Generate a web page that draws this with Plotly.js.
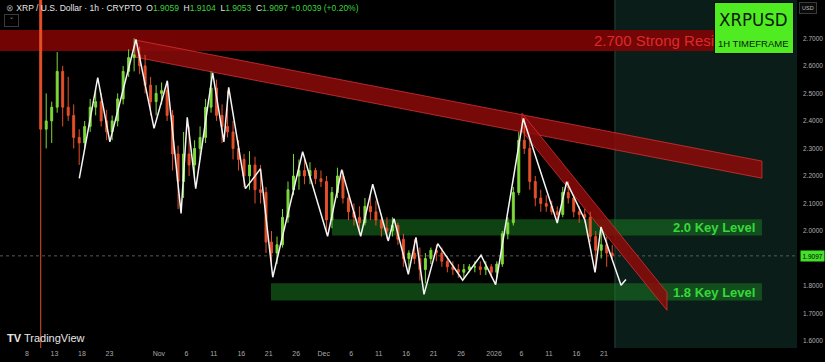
<!DOCTYPE html>
<html>
<head>
<meta charset="utf-8">
<script src="https://cdn.plot.ly/plotly-3.0.1.min.js"></script>
<style>
html,body{margin:0;padding:0;background:#000;}
#chart{width:825px;height:362px;}
</style>
</head>
<body>
<div id="chart"></div>
<script>
// ---- Data ----
const firstCandleDay = '2025-10-10';
const candleOpen  = [2.84,2.37,2.40,2.45,2.58,2.45,2.42,2.34,2.32,2.38,2.45,2.47,2.40,2.36,2.40,2.48,2.58,2.63,2.64,2.60,2.53,2.47,
  2.50,2.51,2.42,2.28,2.18,2.28,2.24,2.30,2.34,2.45,2.52,2.42,2.38,2.36,2.30,2.26,2.20,2.24,2.15,2.14,1.96,1.92,1.95,2.05,2.15,2.20,2.22,2.20,2.22,2.19,
  2.18,2.04,2.14,2.20,2.12,2.07,2.05,2.03,2.09,2.07,2.04,2.01,2.00,2.02,1.97,1.90,1.92,1.90,1.86,1.90,1.93,1.92,1.89,1.87,1.86,1.85,1.86,1.87,1.87,1.86,1.87,
  1.85,1.88,1.99,2.03,2.14,2.33,2.30,2.18,2.12,2.10,2.09,2.07,2.06,2.14,2.12,2.07,2.06,2.05,1.98,1.93,1.95,1.92];
const candleHigh  = [2.87,2.50,2.47,2.65,2.60,2.56,2.46,2.37,2.40,2.48,2.52,2.50,2.44,2.42,2.50,2.60,2.66,2.70,2.67,2.64,2.56,2.53,
  2.54,2.54,2.44,2.31,2.36,2.38,2.33,2.38,2.48,2.58,2.55,2.46,2.51,2.40,2.33,2.28,2.29,2.27,2.24,2.16,2.00,1.98,2.08,2.18,2.28,2.26,2.27,2.25,2.23,2.22,
  2.20,2.16,2.23,2.22,2.13,2.10,2.09,2.12,2.13,2.11,2.06,2.05,2.05,2.03,1.99,1.93,1.97,1.94,1.92,1.94,1.95,1.94,1.91,1.89,1.88,1.88,1.88,1.89,1.89,1.89,1.88,
  1.89,2.00,2.05,2.16,2.36,2.41,2.33,2.20,2.15,2.13,2.11,2.09,2.16,2.18,2.13,2.09,2.08,2.07,2.00,2.01,1.98,1.95];
const candleLow   = [1.30,2.30,2.32,2.43,2.38,2.40,2.30,2.24,2.30,2.36,2.42,2.38,2.33,2.33,2.38,2.46,2.56,2.58,2.57,2.50,2.42,2.42,
  2.46,2.40,2.22,2.08,2.12,2.20,2.19,2.26,2.32,2.43,2.40,2.32,2.34,2.26,2.22,2.16,2.15,2.10,2.10,1.92,1.86,1.88,1.94,2.03,2.13,2.15,2.17,2.17,2.17,2.16,
  1.99,2.01,2.12,2.10,2.04,2.02,1.99,2.02,2.04,2.02,1.98,1.97,1.98,1.95,1.87,1.86,1.88,1.82,1.81,1.88,1.89,1.87,1.85,1.84,1.83,1.83,1.85,1.85,1.84,1.84,1.83,
  1.83,1.87,1.97,2.02,2.13,2.28,2.15,2.09,2.07,2.07,2.06,2.03,2.05,2.10,2.05,2.03,2.03,1.96,1.86,1.90,1.87,1.90];
const candleClose = [2.37,2.40,2.45,2.58,2.45,2.42,2.34,2.32,2.38,2.45,2.47,2.40,2.36,2.40,2.48,2.58,2.63,2.64,2.60,2.53,2.47,2.50,
  2.51,2.42,2.28,2.18,2.28,2.24,2.30,2.34,2.45,2.52,2.42,2.38,2.36,2.30,2.26,2.20,2.24,2.15,2.14,1.96,1.92,1.95,2.05,2.15,2.20,2.22,2.20,2.22,2.19,2.18,
  2.04,2.14,2.20,2.12,2.07,2.05,2.03,2.09,2.07,2.04,2.01,2.00,2.02,1.97,1.90,1.92,1.90,1.86,1.90,1.93,1.92,1.89,1.87,1.86,1.85,1.86,1.87,1.87,1.86,1.87,1.85,
  1.88,1.99,2.03,2.14,2.33,2.30,2.18,2.12,2.10,2.09,2.07,2.06,2.14,2.12,2.07,2.06,2.05,1.98,1.93,1.95,1.92,1.9097];

const zigzagTime = ['2025-10-17 12:30','2025-10-20 21:00','2025-10-23 02:00','2025-10-27 20:00','2025-10-31 03:00',
  '2025-11-02 13:00','2025-11-05 01:00','2025-11-06 04:00','2025-11-07 17:00','2025-11-10 19:00','2025-11-12 20:00',
  '2025-11-13 17:00','2025-11-16 18:00','2025-11-19 12:00','2025-11-21 17:30','2025-11-27 04:00','2025-12-01 17:00',
  '2025-12-04 06:30','2025-12-07 17:30','2025-12-09 22:00','2025-12-12 18:00','2025-12-13 19:00','2025-12-16 09:30',
  '2025-12-17 19:00','2025-12-19 06:00','2025-12-21 18:00','2025-12-26 07:00','2025-12-29 15:00','2026-01-01 07:00',
  '2026-01-06 07:40','2026-01-12 12:00','2026-01-14 05:00','2026-01-17 13:00','2026-01-19 09:00','2026-01-20 11:00',
  '2026-01-24 02:30','2026-01-25 00:00'];
const zigzagPrice = [2.191,2.557,2.324,2.696,2.373,2.546,2.064,2.413,2.154,2.575,2.324,2.522,2.154,2.226,1.832,2.288,1.981,
  2.223,1.981,2.170,1.964,2.045,1.843,1.977,1.770,1.954,1.821,1.912,1.805,2.409,2.029,2.179,2.039,1.850,2.015,1.803,1.824];

const xTickDates  = ['2025-10-08','2025-10-13','2025-10-18','2025-10-23','2025-11-01','2025-11-06','2025-11-11','2025-11-16',
  '2025-11-21','2025-11-26','2025-12-01','2025-12-06','2025-12-11','2025-12-16','2025-12-21','2025-12-26','2026-01-01',
  '2026-01-06','2026-01-11','2026-01-16','2026-01-21'];
const xTickLabels = ['8','13','18','23','Nov','6','11','16','21','26','Dec','6','11','16','21','26','2026','6','11','16','21'];
const yTickValues = [1.6,1.7,1.8,1.9,2.0,2.1,2.2,2.3,2.4,2.5,2.6,2.7];
const yTickLabels = ['1.6000','1.7000','1.8000','','2.0000','2.1000','2.2000','2.3000','2.4000','2.5000','2.6000','2.7000'];

const lastPrice = 1.9097;
const resistanceLevel = [2.654, 2.730];
const keyLevel20 = [1.984, 2.043];
const keyLevel18 = [1.748, 1.810];
const nowTime = '2026-01-23 00:00';

// ---- Build candle dates (one candle per day) ----
const candleDates = [];
{
  const d0 = new Date(firstCandleDay + 'T12:00:00Z');
  for (let i = 0; i < candleOpen.length; i++) {
    const d = new Date(d0.getTime() + i * 86400000);
    candleDates.push(d.toISOString().slice(0,10) + ' 12:00');
  }
}

const traces = [
  {
    type: 'candlestick', x: candleDates,
    open: candleOpen, high: candleHigh, low: candleLow, close: candleClose,
    increasing: {line: {color: '#7fd93a', width: 1}, fillcolor: '#7fd93a'},
    decreasing: {line: {color: '#e4502a', width: 1}, fillcolor: '#e4502a'},
    whiskerwidth: 0, showlegend: false, hoverinfo: 'skip'
  },
  {
    type: 'scatter', mode: 'lines', x: zigzagTime, y: zigzagPrice,
    line: {color: '#f4f4f4', width: 1.5}, showlegend: false, hoverinfo: 'skip'
  }
];

const bandEnd = '2026-02-18 18:00';
const shapes = [
  {type:'rect', layer:'below', xref:'x', yref:'paper', x0: nowTime, x1:'2026-03-15', y0:0, y1:1,
   fillcolor:'#0b1d19', line:{width:0}},
  {type:'line', layer:'below', xref:'x', yref:'paper', x0: nowTime, x1: nowTime, y0:0, y1:1,
   line:{color:'#24473d', width:1}},
  {type:'rect', layer:'below', xref:'paper', yref:'y', x0:0, x1:0.956, y0: resistanceLevel[0], y1: resistanceLevel[1],
   fillcolor:'rgba(125,4,4,0.92)', line:{width:0}},
  {type:'rect', layer:'below', xref:'x', yref:'y', x0:'2025-12-02 12:00', x1: bandEnd, y0: keyLevel20[0], y1: keyLevel20[1],
   fillcolor:'rgba(28,120,34,0.55)', line:{width:0}},
  {type:'rect', layer:'below', xref:'x', yref:'y', x0:'2025-11-21 09:40', x1: bandEnd, y0: keyLevel18[0], y1: keyLevel18[1],
   fillcolor:'rgba(28,120,34,0.55)', line:{width:0}},
  {type:'path', layer:'below', xref:'x', yref:'y',
   path:'M 2025-10-27_15:40,2.694 L 2026-02-18_18:00,2.254 L 2026-02-18_18:00,2.192 L 2025-10-27_15:40,2.632 Z',
   fillcolor:'rgba(140,10,10,0.85)', line:{color:'rgba(210,50,50,0.8)', width:1}},
  {type:'path', layer:'below', xref:'x', yref:'y',
   path:'M 2026-01-06_02:00,2.428 L 2026-02-01_11:15,1.777 L 2026-02-01_11:15,1.712 L 2026-01-06_02:00,2.363 Z',
   fillcolor:'rgba(140,10,10,0.85)', line:{color:'rgba(210,50,50,0.8)', width:1}},
  {type:'line', layer:'below', xref:'paper', yref:'y', x0:0, x1:1, y0: lastPrice, y1: lastPrice,
   line:{color:'#5a5a5a', width:1, dash:'dot'}}
];

const W = 797, H = 348;
const px = v => v / W, py = v => 1 - v / H;
const annotations = [
  {xref:'paper', yref:'paper', x: px(4), y: py(7.5), xanchor:'left', yanchor:'middle', showarrow:false,
   font:{family:'Liberation Sans, Arial, sans-serif', size:8.5, color:'#e8e8e8'},
   text:'<span style="color:#9a9a9a">⊗</span> XRP / U.S. Dollar · 1h · CRYPTO  O<span style="color:#3fd13f">1.9059</span>  H<span style="color:#3fd13f">1.9104</span>  L<span style="color:#3fd13f">1.9053</span>  C<span style="color:#3fd13f">1.9097</span> <span style="color:#3fd13f">+0.0039 (+0.20%)</span>'},
  {xref:'paper', yref:'paper', x: px(11.5), y: py(20.5), xanchor:'center', yanchor:'middle', showarrow:false,
   font:{family:'DejaVu Sans, sans-serif', size:7, color:'#bbbbbb'}, text:'˅',
   bordercolor:'#3a3a3a', borderwidth:1, borderpad:1, width:11, height:9},
  {xref:'paper', yref:'y', x: px(592), y: 2.692, xanchor:'left', yanchor:'middle', showarrow:false,
   font:{family:'Liberation Sans, Arial, sans-serif', size:15, color:'#de2a2a'}, text:'2.700 Strong Resi'},
  {xref:'paper', yref:'paper', x: px(753.5), y: py(28.5), xanchor:'center', yanchor:'middle', showarrow:false,
   text:' ', bgcolor:'#4fec22', bordercolor:'#0a0a0a', borderwidth:1, borderpad:0, width:78, height:50},
  {xref:'paper', yref:'paper', x: px(753.5), y: py(19.5), xanchor:'center', yanchor:'middle', showarrow:false,
   font:{family:'Liberation Sans Narrow, DejaVu Sans Condensed, Arial, sans-serif', size:18.5, color:'#0a1a0a'}, text:'XRPUSD'},
  {xref:'paper', yref:'paper', x: px(753.5), y: py(43), xanchor:'center', yanchor:'middle', showarrow:false,
   font:{family:'Liberation Sans, Arial, sans-serif', size:9.5, color:'#0a1a0a'}, text:'1H TIMEFRAME'},
  {xref:'paper', yref:'y', x: px(757), y: 2.0136, xanchor:'right', yanchor:'middle', showarrow:false,
   font:{family:'Liberation Sans, Arial, sans-serif', size:13, color:'#37d83a'}, text:'<b>2.0 Key Level</b>'},
  {xref:'paper', yref:'y', x: px(757), y: 1.777, xanchor:'right', yanchor:'middle', showarrow:false,
   font:{family:'Liberation Sans, Arial, sans-serif', size:13, color:'#37d83a'}, text:'<b>1.8 Key Level</b>'},
  {xref:'paper', yref:'paper', x: px(5), y: py(338), xanchor:'left', yanchor:'middle', showarrow:false,
   font:{family:'Liberation Sans, Arial, sans-serif', size:11, color:'#e6e6e6'}, text:'<b>TV</b> TradingView'},
  {xref:'paper', yref:'paper', x: px(808), y: py(7.5), xanchor:'center', yanchor:'middle', showarrow:false,
   font:{family:'Liberation Sans, Arial, sans-serif', size:5.5, color:'#bbbbbb'}, text:'USD',
   bordercolor:'#3a3a3a', borderwidth:1, borderpad:2, bgcolor:'#0a0a0a'},
  {xref:'paper', yref:'y', x: 1, xshift: 3, y: lastPrice, xanchor:'left', yanchor:'middle', showarrow:false,
   font:{family:'Liberation Sans, Arial, sans-serif', size:6.5, color:'#000'}, text: lastPrice.toFixed(4),
   bgcolor:'#45e02a', borderpad:1.5}
];

const layout = {
  width: 825, height: 362,
  margin: {l:0, r:28, t:0, b:14, pad:0},
  paper_bgcolor:'#000', plot_bgcolor:'#000',
  showlegend:false, boxgap:0.5,
  xaxis: {type:'date', range:['2025-10-03 02:10','2026-02-25 03:07'], tickmode:'array',
    tickvals: xTickDates, ticktext: xTickLabels, showgrid:false, zeroline:false, showline:false, ticks:'',
    tickfont:{family:'Liberation Sans, Arial, sans-serif', size:7, color:'#a8a8a8'},
    rangeslider:{visible:false}, fixedrange:true},
  yaxis: {side:'right', range:[1.575, 2.8393], tickmode:'array', tickvals: yTickValues, ticktext: yTickLabels,
    showgrid:false, zeroline:false, showline:false, ticks:'', ticklabelstandoff:5,
    tickfont:{family:'Liberation Sans, Arial, sans-serif', size:6.5, color:'#b0b0b0'}, fixedrange:true},
  shapes: shapes, annotations: annotations
};

Plotly.newPlot('chart', traces, layout, {staticPlot:true, displayModeBar:false});
</script>
</body>
</html>
